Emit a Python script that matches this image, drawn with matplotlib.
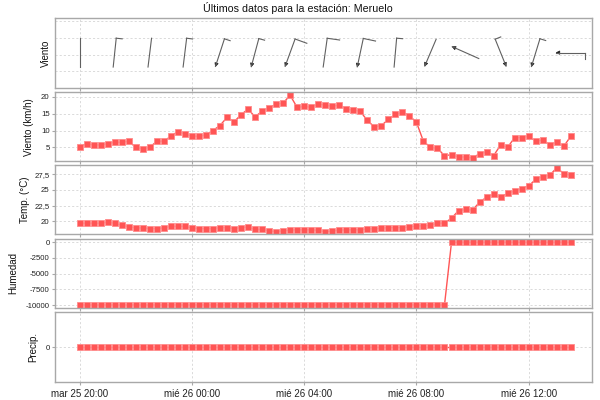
import matplotlib
matplotlib.use("Agg")
import matplotlib.pyplot as plt
import matplotlib.dates as mdates
import matplotlib.transforms as mtransforms
from matplotlib.lines import Line2D
from matplotlib.patches import Polygon
import numpy as np
import pandas as pd

plt.rcParams['font.family'] = ['Liberation Sans', 'DejaVu Sans']

# ---------------- data ----------------
title = "Últimos datos para la estación: Meruelo"
times = pd.date_range("2025-03-25 20:00", periods=71, freq="15min")

wind_speed = [5.0, 6.1, 5.7, 5.7, 6.1, 6.5, 6.5, 6.8, 5.0, 4.6,
              5.0, 6.8, 6.8, 8.3, 9.7, 9.0, 8.3, 8.3, 8.65, 10.0,
              11.5, 13.9, 12.6, 14.7, 16.4, 14.1, 15.75, 16.8, 17.8, 18.2,
              20.5, 16.9, 17.2, 16.9, 17.9, 17.6, 17.2, 17.6, 16.4, 16.05,
              15.75, 13.0, 11.1, 11.5, 13.3, 14.8, 15.5, 14.4, 12.5, 6.8,
              5.0, 4.7, 2.5, 2.8, 2.1, 2.1, 1.8, 3.1, 3.6, 2.5,
              5.7, 5.0, 7.9, 7.9, 8.3, 6.8, 7.2, 5.7, 6.5, 5.3,
              8.3]

temperature = [19.7, 19.7, 19.7, 19.7, 19.85, 19.7, 19.35, 19.15, 18.95, 18.95,
               18.85, 18.85, 18.95, 19.2, 19.2, 19.2, 18.95, 18.85, 18.85, 18.85,
               19.0, 19.0, 18.85, 19.0, 19.1, 18.7, 18.7, 18.5, 18.35, 18.5,
               18.6, 18.65, 18.65, 18.65, 18.55, 18.35, 18.45, 18.6, 18.65, 18.65,
               18.65, 18.8, 18.8, 18.9, 19.0, 19.0, 19.0, 19.1, 19.25, 19.3,
               19.35, 19.7, 19.7, 20.5, 21.7, 21.9, 21.8, 23.05, 23.85, 24.3,
               23.85, 24.45, 24.85, 25.2, 25.65, 26.7, 27.15, 27.35, 28.55, 27.6,
               27.35]

humidity = [-10000] * 53 + [0] * 18
precip = [0] * 71

# wind glyphs every 5th reading: direction (deg, clockwise from north)
glyph_step = 5
wind_dir = [0, 6, 7, 7, 18, 15, 20, 8, 12, 5, 23, 114, 338, 17, 90]
glyph_arrow = [0, 0, 0, 0, 1, 1, 1, 0, 1, 0, 1, 1, 1, 1, 1]

x_tick_times = ["2025-03-25 20:00", "2025-03-26 00:00", "2025-03-26 04:00",
                "2025-03-26 08:00", "2025-03-26 12:00"]
x_tick_labels = ["mar 25 20:00", "mié 26 00:00", "mié 26 04:00",
                 "mié 26 08:00", "mié 26 12:00"]

speed_ticks = [5, 10, 15, 20]
speed_ticklabels = ["5", "10", "15", "20"]
temp_ticks = [20, 22.5, 25, 27.5]
temp_ticklabels = ["20", "22,5", "25", "27,5"]
hum_ticks = [-10000, -7500, -5000, -2500, 0]
hum_ticklabels = ["-10000", "-7500", "-5000", "-2500", "0"]
precip_ticks = [0]
precip_ticklabels = ["0"]

ylabels = ["Viento", "Viento (km/h)", "Temp. (°C)", "Humedad", "Precip."]

# ---------------- style ----------------
RED = "#ff5555"
EDGE = "#ff8a8a"
GRID = "#d4d4d4"
SPINE = "#a8a8a8"

W, H = 600, 400
left_px, right_px = 55.3, 592.3
panels_px = [(18.3, 88.3), (92.3, 161.0), (165.3, 234.3), (238.7, 308.3), (312.3, 381.7)]
label_x = [-0.009, -0.040, -0.047, -0.069, -0.031]

fig = plt.figure(figsize=(6, 4), dpi=100)
fig.patch.set_facecolor("white")

axes = []
for i, (t, b) in enumerate(panels_px):
    rect = [left_px / W, 1 - b / H, (right_px - left_px) / W, (b - t) / H]
    if i == 0:
        ax = fig.add_axes(rect)
    else:
        ax = fig.add_axes(rect, sharex=axes[0])
    axes.append(ax)

x0 = pd.Timestamp("2025-03-25 19:08")
x1 = pd.Timestamp("2025-03-26 14:16")

for i, ax in enumerate(axes):
    for s in ax.spines.values():
        s.set_color(SPINE)
        s.set_linewidth(1.0)
    ax.grid(True, color=GRID, linestyle=(0, (2.5, 2.5)), linewidth=0.6)
    ax.set_axisbelow(True)
    ax.tick_params(axis="y", length=2, color=SPINE, labelsize=5.6, pad=2, labelcolor="#222222")
    ax.tick_params(axis="x", length=2, color=SPINE, labelsize=7, pad=3, labelcolor="#222222")
    ax.set_ylabel(ylabels[i], fontsize=7, color="#111111")
    ax.yaxis.set_label_coords(label_x[i], 0.5)

axes[0].set_xlim(x0, x1)
axes[0].set_xticks(pd.to_datetime(x_tick_times))
for ax in axes[:-1]:
    ax.tick_params(axis="x", labelbottom=False)
axes[-1].set_xticklabels(x_tick_labels)

series = [wind_speed, temperature, humidity, precip]
for ax, vals in zip(axes[1:], series):
    ax.plot(times, vals, color=RED, linewidth=1.0, marker="s", markersize=4.0,
            markerfacecolor=RED, markeredgecolor=EDGE, markeredgewidth=0.6)

axes[1].set_ylim(0.92, 21.4)
axes[1].set_yticks(speed_ticks, speed_ticklabels)
axes[2].set_ylim(17.93, 28.94)
axes[2].set_yticks(temp_ticks, temp_ticklabels)
axes[3].set_ylim(-10526, 574)
axes[3].set_yticks(hum_ticks, hum_ticklabels)
axes[4].set_ylim(-1, 1)
axes[4].set_yticks(precip_ticks, precip_ticklabels)

# ---------------- wind glyph panel ----------------
ax = axes[0]
ax.set_ylim(-1.0, 1.08)
ax.set_yticks([-0.5, 0.0, 0.5, 1.0])
ax.tick_params(axis="y", labelleft=False, length=0)
glyph_y = 0.06
L = 0.29          # staff length in inches
half = L / 2
gcol = "#606060"
g_times = times[::glyph_step]
g_speeds = wind_speed[::glyph_step]
for t, d, spd, arr in zip(g_times, wind_dir, g_speeds, glyph_arrow):
    xn = mdates.date2num(t)
    trans = fig.dpi_scale_trans + mtransforms.ScaledTranslation(xn, glyph_y, ax.transData)
    th = np.deg2rad(d)
    u = np.array([np.sin(th), np.cos(th)])
    perp = np.array([u[1], -u[0]])
    tail = u * half
    head = -u * half
    ax.add_line(Line2D([head[0], tail[0]], [head[1], tail[1]], transform=trans,
                       color=gcol, linewidth=0.8, clip_on=False))
    if spd >= 15.5:
        blen = 0.125
    elif spd >= 5.5:
        blen = 0.06
    else:
        blen = 0.0
    if blen > 0:
        bend = tail + perp * blen
        ax.add_line(Line2D([tail[0], bend[0]], [tail[1], bend[1]], transform=trans,
                           color=gcol, linewidth=0.8, clip_on=False))
    if arr:
        al, aw = 0.035, 0.017
        base = head + u * al
        tri = [head, base + perp * aw, base - perp * aw]
        ax.add_patch(Polygon(tri, closed=True, transform=trans, facecolor="#222222",
                             edgecolor="#222222", linewidth=0.5))

fig.text(298 / W, 1 - 7.5 / H, title, ha="center", va="center", fontsize=7.7, color="#111111")

fig.savefig("out.png", dpi=100, facecolor="white")
